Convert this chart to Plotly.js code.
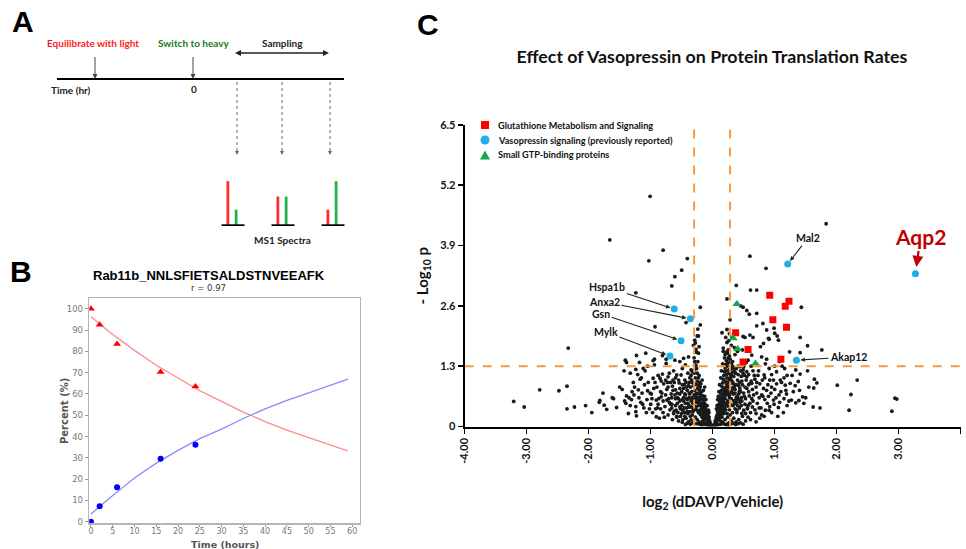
<!DOCTYPE html>
<html><head><meta charset="utf-8">
<script src="https://cdn.plot.ly/plotly-3.0.1.min.js"></script>
<style>html,body{margin:0;padding:0;background:#fff}#chart{width:966px;height:549px}</style>
</head><body><div id="chart"></div>
<script>
// ---------- Panel B data (Rab11b peptide turnover) ----------
const sampleTime = [0, 2, 6, 16, 24];
const lightPercent = [100, 92.5, 83.5, 70.3, 63.5];
const heavyPercent = [0, 7.3, 16.2, 29.6, 36.1];
const fitTime = [0, 5, 10, 15, 20, 25, 30, 35, 40, 45, 50, 55, 59];
const lightFit = [96.3, 88.0, 80.5, 73.5, 67.5, 61.5, 56.5, 51.5, 47.0, 43.0, 39.5, 36.0, 33.3];
const heavyFit = [3.6, 12.3, 20.5, 27.5, 33.5, 39.0, 43.5, 48.5, 53.0, 57.0, 60.5, 64.0, 67.0];
const bTimeTicks = [0, 5, 10, 15, 20, 25, 30, 35, 40, 45, 50, 55, 60];
const bPercentTicks = [0, 10, 20, 30, 40, 50, 60, 70, 80, 90, 100];

// ---------- Panel A schematic spectra ----------
const spectraSample = [1, 2, 3];
const lightPeak = [1.0, 0.65, 0.35];
const heavyPeak = [0.35, 0.65, 1.0];

// ---------- Panel C data (volcano) ----------
const glutLog2 = [0.92, 1.23, 1.17, 0.97, 1.19, 0.37, 0.57, 0.49, 1.10];
const glutNegLogP = [2.83, 2.70, 2.59, 2.30, 2.14, 2.02, 1.66, 1.39, 1.45];
const vasoGenes = ['Aqp2', 'Mal2', 'Akap12', 'Hspa1b', 'Anxa2', 'Gsn', 'Mylk'];
const vasoLog2 = [3.27, 1.21, 1.35, -0.62, -0.36, -0.51, -0.69];
const vasoNegLogP = [3.29, 3.50, 1.43, 2.53, 2.32, 1.85, 1.52];
const gtpLog2 = [0.39, 0.33, 0.40, 0.69];
const gtpNegLogP = [2.64, 1.90, 1.67, 1.36];
const foldCutoffs = [-0.30, 0.28];
const pCutoff = 1.3;
const xTickVals = [-4, -3, -2, -1, 0, 1, 2, 3, 4];
const xTickText = ['-4.00', '-3.00', '-2.00', '-1.00', '0.00', '1.00', '2.00', '3.00', '4.00'];
const yTickVals = [0, 1.3, 2.6, 3.9, 5.2, 6.5];
const yTickText = ['0', '1.3', '2.6', '3.9', '5.2', '6.5'];

const otherLog2 = [
 -1.01,-1.66,-0.80,-1.03,-0.41,-0.50,-0.61,-0.66,1.83,0.60,
 0.86,0.38,0.61,0.71,0.23,-1.24,-0.20,0.49,1.43,0.71,
 0.55,-0.43,-0.20,-0.93,0.28,0.99,0.15,0.23,0.81,0.71,
 0.52,0.65,1.04,1.41,-0.23,1.53,1.76,0.91,0.82,0.77,
 0.48,0.23,0.17,1.41,1.24,-1.08,-0.94,-1.18,-0.23,-0.29,
 -2.33,0.45,0.59,0.87,0.21,0.25,0.49,0.60,0.90,1.00,
 1.06,0.63,0.57,0.79,0.87,-2.79,-2.48,-2.35,-3.21,-3.04,
 -2.35,-2.23,-1.41,-1.39,-1.23,-0.96,-0.81,-0.75,-1.43,-1.24,
 -1.12,-1.09,-0.94,-0.75,-0.61,-0.53,-0.47,-0.39,-0.96,-0.85,
 -0.81,-0.72,-0.63,-0.58,-0.49,-0.44,-0.35,-1.20,-1.14,-1.05,
 -1.39,-1.35,-1.82,-1.75,-1.71,-1.55,-1.24,-1.24,-1.23,-0.91,
 -0.91,-0.83,-0.74,-0.77,-0.67,-0.69,-0.65,-0.60,-0.54,-0.51,
 -1.10,-0.98,-0.90,-1.02,-0.97,-0.86,-0.80,-0.72,-0.65,-0.60,
 -0.56,-0.55,-0.50,-0.48,-0.62,-0.70,-0.55,-0.45,-0.40,-0.38,
 1.34,1.41,1.53,1.38,1.64,1.68,1.63,2.01,2.33,2.23,
 1.45,1.39,1.34,1.62,1.73,2.20,2.94,2.97,2.89,0.91,
 1.03,0.83,0.98,1.09,1.17,1.25,1.27,0.98,1.06,0.92,
 0.88,0.79,0.76,0.68,0.60,0.71,0.82,0.63,0.55,0.49,
 0.44,1.12,1.20,1.10,1.15,1.00,0.90,0.85,0.95,1.05,
 0.70,0.65,0.75,0.58,0.52,0.68,0.74,0.62,0.56,0.53,
 0.70,0.80,0.95,1.30,1.47,1.55,1.20,0.85,0.65,-1.77,
 -1.83,-1.30,-1.42,-1.40,-2.05,-1.95,-1.60,-1.50,-1.15,-1.05,
 -0.03,-0.05,-0.06,-0.08,-0.10,-0.12,-0.13,-0.15,-0.16,-0.18,
 -0.20,-0.21,-0.23,-0.25,-0.26,-0.04,-0.07,-0.09,-0.11,-0.14,
 -0.17,-0.19,-0.22,-0.24,-0.27,-0.29,-0.31,-0.33,-0.12,-0.15,
 -0.18,-0.20,-0.23,-0.26,-0.28,-0.30,-0.34,-0.36,-0.38,-0.40,
 -0.42,-0.37,-0.33,-0.28,-0.25,-0.22,-0.19,-0.16,-0.14,-0.10,
 -0.21,-0.24,-0.19,-0.17,-0.22,-0.28,-0.30,-0.27,-0.24,-0.30,
 -0.26,-0.22,-0.28,-0.25,-0.24,-0.32,-0.35,-0.45,-0.47,-0.44,
 -0.41,-0.46,-0.50,-0.52,-0.48,-0.43,-0.39,-0.35,-0.31,-0.13,
 -0.11,-0.09,-0.07,-0.06,-0.15,-0.13,-0.29,-0.27,-0.31,-0.05,
 -0.08,-0.12,-0.17,-0.21,-0.26,-0.32,-0.36,-0.41,-0.44,-0.49,
 -0.55,-0.58,-0.52,-0.57,-0.62,-0.66,-0.60,-0.53,-0.47,-0.42,
 -0.38,-0.34,-0.30,-0.25,-0.20,-0.17,-0.14,-0.11,-0.08,-0.06,
 -0.19,-0.23,-0.27,-0.32,-0.36,-0.40,-0.35,-0.29,-0.33,-0.37,
 -0.26,-0.21,-0.18,-0.15,-0.12,-0.10,-0.34,-0.39,-0.43,-0.46,
 0.03,0.05,0.06,0.07,0.08,0.09,0.10,0.11,0.12,0.13,
 0.14,0.15,0.16,0.17,0.18,0.19,0.20,0.21,0.22,0.04,
 0.06,0.08,0.10,0.12,0.14,0.16,0.18,0.20,0.22,0.24,
 0.26,0.28,0.30,0.12,0.15,0.18,0.21,0.24,0.27,0.30,
 0.33,0.36,0.38,0.40,0.34,0.31,0.26,0.23,0.25,0.20,
 0.17,0.24,0.27,0.29,0.14,0.13,0.11,0.10,0.09,0.08,
 0.07,0.06,0.16,0.20,0.24,0.28,0.32,0.36,0.40,0.44,
 0.46,0.42,0.44,0.48,0.50,0.48,0.42,0.38,0.34,0.30,
 0.26,0.22,0.05,0.09,0.13,0.17,0.21,0.25,0.29,0.33,
 0.37,0.41,0.45,0.49,0.53,0.57,0.15,0.19,0.23,0.27,
 0.31,0.35,0.39,0.43,0.47,0.51,0.55,0.59,0.13,0.17,
 0.21,0.25,0.29,0.33,0.37,0.41,0.45,0.28,0.32,0.36,
 0.40,0.30,0.26,0.22,0.19,0.16,0.27,0.31,0.35,0.19,
 0.23,0.27,0.31,0.35,0.39,0.43,0.47,0.52,0.56,0.61,
 0.64,0.58,0.54,0.50,0.46,0.42,0.38,0.34,0.30,0.26,
 0.22,0.18,0.14,0.11,0.08,0.06,0.10,0.14,0.18,0.22,
 0.26,0.30,0.34,0.38,0.42,0.46,0.50,0.54,0.58,0.62,
 -0.88,-0.84,-0.79,-0.74,-0.70,-0.66,-0.63,-0.59,-0.57,-0.53,
 -0.50,-0.47,-0.44,-0.41,-0.60,-0.64,-0.68,-0.72,-0.76,-0.80,
 -0.84,-0.88,-0.93,-1.00,-1.06,-1.16,-1.28,-1.33,-1.46,-1.62,
 0.66,0.72,0.78,0.84,0.89,0.94,1.02,1.08,1.14,1.18,
 0.70,0.76,0.84,0.92,1.00,1.08,1.16,0.64,0.73,0.81,
 -1.36,-1.31,-1.26,-1.19,-1.13,-1.07,-1.01,-0.95,-0.89,-0.83,
 -0.78,-0.73,-0.68,-0.64,-0.58,-0.53,-0.49,-0.45,-0.42,-0.39,
 -0.37,-0.41,-0.45,-0.49,-0.53,-0.57,-0.61,-0.66,-0.71,-0.76,
 -0.82,-0.87,-0.92,-0.99,-1.04,-1.11,-1.17,-1.21,-1.27,-1.33,
 -0.02,-0.04,-0.06,-0.09,-0.11,-0.13,-0.16,-0.18,-0.21,-0.24,
 -0.27,-0.30,-0.33,-0.29,-0.25,-0.22,-0.19,-0.15,-0.12,-0.09,
 -0.07,-0.14,-0.17,-0.20,-0.23,-0.26,-0.29,-0.32,-0.35,-0.38,
 0.02,0.04,0.06,0.08,0.10,0.12,0.14,0.16,0.18,0.20,
 0.22,0.24,0.26,0.28,0.30,0.32,0.34,0.36,0.38,0.40,
 0.09,0.11,0.13,0.15,0.17,0.19,0.21,0.23,0.25,0.27,
 0.12,0.15,0.18,0.21,0.24,0.27,0.30,0.33,0.36,0.39,
 0.14,0.17,0.20,0.23,0.26,0.29,0.32,0.35,0.38,0.41,
 0.43,0.45,0.47,0.49,0.51,0.53,0.55,0.57,0.59,0.61,
 0.63,0.67,0.71,0.75,0.79,0.83,0.87,0.91,0.95,0.99,
 1.03,1.07,1.11,1.15,1.19,1.23,1.28,1.33,1.40,1.50
];
const otherNegLogP = [
 4.96,4.02,3.80,3.57,3.62,3.37,3.23,3.03,4.37,3.67,
 3.41,3.04,2.94,2.94,2.75,2.88,2.57,2.57,2.57,2.44,
 2.50,2.24,2.19,2.15,2.30,2.12,2.02,2.09,2.22,2.17,
 1.92,1.92,1.95,1.92,1.95,1.74,1.65,1.88,1.79,1.72,
 1.65,1.81,1.69,1.59,1.61,1.58,1.45,1.38,1.58,1.40,
 1.69,2.60,2.42,2.08,1.92,1.65,1.94,1.97,1.90,2.01,
 1.86,1.54,1.43,1.50,1.45,0.79,0.77,0.87,0.54,0.42,
 0.38,0.42,1.43,1.38,1.53,1.42,1.53,1.45,1.20,1.23,
 1.25,1.20,1.33,1.36,1.43,1.40,1.47,1.50,1.04,1.04,
 1.13,1.07,1.20,1.11,1.25,1.33,1.22,0.79,0.72,0.77,
 0.66,0.62,0.56,0.46,0.37,0.41,0.43,0.32,0.23,0.57,
 0.21,0.64,0.57,0.43,0.70,0.36,0.87,0.79,0.94,1.11,
 0.90,0.60,0.85,0.38,0.30,0.18,0.30,0.25,0.15,0.45,
 0.30,0.60,0.75,0.35,0.95,1.15,1.00,1.00,1.15,0.95,
 1.22,1.13,1.20,0.97,1.02,0.94,0.83,0.89,1.00,0.69,
 0.64,0.56,0.51,0.42,0.40,0.35,0.61,0.59,0.33,1.25,
 1.18,1.11,1.00,1.00,0.89,0.93,0.57,0.57,0.41,0.43,
 0.50,0.25,0.18,0.36,0.50,0.72,0.82,0.93,1.07,1.22,
 1.29,1.30,1.10,0.75,0.60,0.80,0.65,0.35,0.30,0.22,
 0.10,0.55,0.62,0.75,0.85,1.02,1.20,1.30,0.40,0.60,
 0.85,1.00,1.12,0.75,0.50,0.85,0.45,1.35,1.20,0.72,
 0.52,0.75,0.55,0.50,0.45,0.30,0.60,0.85,1.05,1.30,
 0.05,0.12,0.20,0.28,0.35,0.42,0.50,0.58,0.66,0.75,
 0.85,0.95,1.05,1.15,1.25,0.08,0.15,0.10,0.25,0.30,
 0.40,0.48,0.55,0.62,0.70,0.78,0.88,0.95,0.18,0.22,
 0.30,0.36,0.45,0.52,0.60,0.68,0.75,0.85,0.62,0.50,
 0.40,0.32,0.25,0.20,0.15,0.10,0.06,0.12,0.08,0.05,
 0.70,0.82,0.92,1.00,1.10,1.05,1.15,1.32,1.40,1.48,
 1.60,1.72,1.80,1.95,2.10,0.50,0.42,0.30,0.55,0.68,
 0.78,0.90,0.45,0.22,0.15,0.18,0.10,0.14,0.35,0.65,
 0.58,0.45,0.35,0.30,0.78,0.85,1.86,1.66,1.75,0.02,
 0.03,0.04,0.03,0.05,0.06,0.08,0.05,0.07,0.04,0.09,
 0.12,0.22,0.38,0.50,0.33,0.48,0.60,0.70,0.82,0.60,
 0.72,1.00,1.22,0.98,0.62,0.50,0.40,0.30,0.20,0.14,
 0.25,0.33,0.42,0.40,0.22,0.28,1.10,1.32,1.18,1.05,
 0.90,0.78,0.58,0.46,0.36,0.22,0.58,0.88,0.95,0.40,
 0.05,0.10,0.18,0.25,0.33,0.40,0.48,0.55,0.62,0.70,
 0.78,0.86,0.94,1.02,1.10,1.18,1.26,1.34,1.42,0.12,
 0.08,0.15,0.22,0.30,0.38,0.45,0.52,0.60,0.68,0.76,
 0.84,0.92,1.00,0.12,0.20,0.28,0.36,0.44,0.52,0.60,
 0.70,0.80,0.90,1.00,1.08,1.16,1.22,1.30,1.48,1.55,
 1.62,1.58,1.36,1.28,1.20,1.05,0.90,0.75,0.65,0.58,
 0.45,0.38,0.10,0.15,0.20,0.25,0.30,0.38,0.45,0.52,
 0.62,0.70,0.82,0.90,0.35,0.22,0.15,0.10,0.18,0.12,
 0.08,0.05,0.02,0.04,0.05,0.06,0.04,0.03,0.05,0.07,
 0.04,0.06,0.08,0.05,0.12,0.20,0.30,0.40,0.50,0.62,
 0.74,0.86,0.65,0.76,0.98,1.10,0.82,0.66,0.48,0.58,
 0.72,0.95,1.08,1.25,1.15,1.30,1.20,1.45,1.40,1.55,
 1.62,1.75,1.85,1.60,1.48,1.35,2.00,1.92,1.70,0.35,
 0.28,0.36,0.46,0.55,0.30,0.40,0.28,0.48,0.38,0.30,
 0.42,0.90,1.00,0.72,0.45,0.58,0.52,0.92,0.82,0.70,
 0.92,0.82,0.55,0.35,0.25,0.20,0.15,0.25,0.65,1.12,
 1.02,1.35,0.55,0.62,0.88,1.08,1.28,1.38,1.12,0.98,
 0.48,0.75,0.92,0.80,0.52,0.62,0.28,0.35,0.72,0.55,
 0.28,0.62,0.50,0.32,1.05,1.00,0.95,0.85,0.68,0.55,
 0.38,1.10,0.95,0.48,0.58,0.52,0.95,0.45,0.80,0.62,
 0.68,0.50,0.40,0.58,0.90,0.72,0.62,0.52,0.30,0.78,
 0.28,0.92,1.05,1.00,1.30,1.40,1.25,0.80,1.10,0.65,
 0.28,0.58,0.85,0.62,0.48,0.30,0.72,0.82,0.40,0.98,
 0.20,0.95,0.48,0.78,0.20,0.42,0.90,0.22,0.85,0.42,
 0.70,0.58,0.70,0.58,0.82,0.62,0.68,0.40,0.60,1.00,
 0.72,0.60,0.38,0.70,0.95,0.40,1.02,1.12,0.68,1.15,
 0.02,0.05,0.09,0.16,0.20,0.26,0.34,0.42,0.50,0.58,
 0.65,0.55,0.62,0.92,0.72,0.88,0.68,0.52,0.42,0.28,
 0.22,0.14,0.20,0.26,0.30,0.36,0.44,0.32,0.55,0.45,
 0.02,0.06,0.12,0.19,0.27,0.35,0.44,0.52,0.60,0.69,
 0.78,0.87,0.95,1.04,1.12,0.96,0.85,0.72,0.58,0.62,
 0.32,0.40,0.46,0.55,0.66,0.75,0.84,1.20,1.38,1.52,
 0.20,0.32,0.42,0.48,0.55,0.68,0.78,0.45,0.50,0.35,
 0.62,0.72,0.98,1.05,1.14,1.22,1.30,1.18,1.25,1.12,
 0.95,0.75,0.55,1.15,0.65,0.28,1.18,0.45,0.92,0.15,
 0.60,1.10,0.95,0.40,0.68,0.22,0.78,0.35,0.85,0.48,
 0.92,0.68,0.95,1.05,0.70,0.55,1.10,0.88,0.78,0.62
];

// ---------- helpers (pixel -> paper) ----------
const W = 966, H = 549;
const px = v => v / W;
const py = v => 1 - v / H;
const CAL = 'Lato, "Open Sans", sans-serif';
const TAH = '"DejaVu Sans", "Liberation Sans", sans-serif';
const ARI = '"Liberation Sans", Arial, sans-serif';

const traces = [
  // Panel B
  {x: fitTime, y: lightFit, xaxis: 'x2', yaxis: 'y2', mode: 'lines', line: {color: '#ff8a8a', width: 1.3}, showlegend: false, hoverinfo: 'skip'},
  {x: fitTime, y: heavyFit, xaxis: 'x2', yaxis: 'y2', mode: 'lines', line: {color: '#8a8aff', width: 1.3}, showlegend: false, hoverinfo: 'skip'},
  {x: sampleTime, y: lightPercent, xaxis: 'x2', yaxis: 'y2', mode: 'markers', name: 'Light', marker: {symbol: 'triangle-up', size: 7, color: '#ff0000'}, showlegend: false},
  {x: sampleTime, y: heavyPercent, xaxis: 'x2', yaxis: 'y2', mode: 'markers', name: 'Heavy', marker: {symbol: 'circle', size: 6, color: '#0000ff'}, showlegend: false},
  // Panel A spectra
  {type: 'bar', x: spectraSample, y: lightPeak, xaxis: 'x3', yaxis: 'y3', offset: -0.11, width: 0.055, marker: {color: '#ff2a2a'}, showlegend: false, hoverinfo: 'skip'},
  {type: 'bar', x: spectraSample, y: heavyPeak, xaxis: 'x3', yaxis: 'y3', offset: 0.055, width: 0.055, marker: {color: '#22b04a'}, showlegend: false, hoverinfo: 'skip'},
  // Panel C
  {x: otherLog2, y: otherNegLogP, mode: 'markers', name: 'Other proteins', marker: {symbol: 'circle', size: 3.8, color: '#1a1a1a'}, showlegend: false},
  {x: glutLog2, y: glutNegLogP, mode: 'markers', name: 'Glutathione Metabolism and Signaling', marker: {symbol: 'square', size: 7, color: '#ff0000'}, showlegend: false},
  {x: gtpLog2, y: gtpNegLogP, mode: 'markers', name: 'Small GTP-binding proteins', marker: {symbol: 'triangle-up', size: 8, color: '#12a84a'}, showlegend: false},
  {x: vasoLog2, y: vasoNegLogP, text: vasoGenes, mode: 'markers', name: 'Vasopressin signaling (previously reported)', marker: {symbol: 'circle', size: 7, color: '#1eaee8'}, showlegend: false}
];

const shapes = [];
const pline = (x0, y0, x1, y1, color, width, dash) => shapes.push({type: 'line', xref: 'paper', yref: 'paper', x0: px(x0), y0: py(y0), x1: px(x1), y1: py(y1), line: {color, width, dash: dash || 'solid'}});
// arrow head: tip (x,y), direction 'down' | 'left' | 'right'
const head = (x, y, dir, len, half, color) => {
  let pts;
  if (dir === 'down') pts = [[x, y], [x - half, y - len], [x + half, y - len]];
  else if (dir === 'left') pts = [[x, y], [x + len, y - half], [x + len, y + half]];
  else pts = [[x, y], [x - len, y - half], [x - len, y + half]];
  const path = 'M ' + pts.map(p => px(p[0]) + ' ' + py(p[1])).join(' L ') + ' Z';
  shapes.push({type: 'path', xref: 'paper', yref: 'paper', path, fillcolor: color, line: {width: 0}});
};
// Panel C thresholds
foldCutoffs.forEach(c => shapes.push({type: 'line', xref: 'x', yref: 'y', x0: c, x1: c, y0: 0, y1: 6.5, line: {color: '#f39a46', width: 2, dash: 'dash'}}));
shapes.push({type: 'line', xref: 'x', yref: 'y', x0: -4, x1: 4, y0: pCutoff, y1: pCutoff, line: {color: '#f39a46', width: 2, dash: 'dash'}});
// Panel C manual legend symbols
shapes.push({type: 'rect', xref: 'paper', yref: 'paper', x0: px(481), x1: px(489), y0: py(129), y1: py(121), fillcolor: '#ff0000', line: {width: 0}});
shapes.push({type: 'circle', xref: 'paper', yref: 'paper', x0: px(480.5), x1: px(489.5), y0: py(144.5), y1: py(135.5), fillcolor: '#1eaee8', line: {width: 0}});
shapes.push({type: 'path', xref: 'paper', yref: 'paper', path: `M ${px(480)} ${py(159.5)} L ${px(490)} ${py(159.5)} L ${px(485)} ${py(150.5)} Z`, fillcolor: '#12a84a', line: {width: 0}});
// Panel A timeline, arrows, dotted sampling lines
pline(57, 79, 344, 79, '#000', 2);
[95, 193].forEach(xx => { pline(xx, 57, xx, 75, '#444', 1); head(xx, 79, 'down', 5, 2.5, '#444'); });
pline(240, 53, 324, 53, '#222', 1.3); head(235, 53, 'left', 6, 3, '#222'); head(329, 53, 'right', 6, 3, '#222');
[237, 282, 330].forEach(xx => { pline(xx, 82, xx, 151, '#666', 1, 'dot'); head(xx, 155, 'down', 4, 2, '#666'); });
// spectra baselines
spectraSample.forEach(s => shapes.push({type: 'line', xref: 'x3', yref: 'y3', x0: s - 0.21, x1: s + 0.25, y0: -0.01, y1: -0.01, line: {color: '#000', width: 2.5}}));

const ann = [];
const txt = (x, y, text, size, color, family, anchor, angle) => ann.push({xref: 'paper', yref: 'paper', x: px(x), y: py(y), text, showarrow: false, textangle: angle || 0, xanchor: anchor || 'center', yanchor: 'middle', font: {size, color: color || '#000', family: family || CAL}});
// Panel letters
txt(23, 22, '<b>A</b>', 30, '#000', ARI);
txt(21, 271, '<b>B</b>', 30, '#000', ARI);
txt(428, 25, '<b>C</b>', 30, '#000', ARI);
// Panel A text
txt(93, 43, '<b>Equilibrate with light</b>', 10, '#ff1a1a');
txt(194, 43, '<b>Switch to heavy</b>', 10, '#1a7a1a');
txt(282, 43, '<b>Sampling</b>', 10, '#222');
txt(49, 90, '<b>Time (hr)</b>', 10, '#222', CAL, 'left');
txt(194, 89, '<b>0</b>', 10, '#222');
txt(282, 240, '<b>MS1 Spectra</b>', 10, '#222');
// Panel B titles
txt(209, 275, '<b>Rab11b_NNLSFIETSALDSTNVEEAFK</b>', 13, '#000', ARI);
txt(208, 288, 'r = 0.97', 8.5, '#333', TAH);
txt(225, 544, '<b>Time (hours)</b>', 9.5, '#555', TAH);
txt(64, 411, '<b>Percent (%)</b>', 10, '#555', TAH, 'center', -90);
// Panel C legend text
txt(496, 125, '<b>Glutathione Metabolism and Signaling</b>', 9.2, '#111', CAL, 'left');
txt(496, 140, '<b>Vasopressin signaling (previously reported)</b>', 9.2, '#111', CAL, 'left');
txt(496, 155, '<b>Small GTP-binding proteins</b>', 9.2, '#111', CAL, 'left');
// Panel C gene labels
const labelOffsets = {Aqp2: [5, -37], Mal2: [20, -26], Akap12: [52, -3], Hspa1b: [-67, -22], Anxa2: [-86, -17], Gsn: [-80, -27], Mylk: [-64, -24]};
vasoGenes.forEach((g, i) => {
  const big = g === 'Aqp2';
  ann.push({xref: 'x', yref: 'y', x: vasoLog2[i], y: vasoNegLogP[i], ax: labelOffsets[g][0], ay: labelOffsets[g][1],
    text: '<b>' + g + '</b>', showarrow: true, arrowhead: 2, arrowsize: big ? 1 : 0.8, arrowwidth: big ? 2.2 : 1.1, standoff: big ? 7 : 4,
    arrowcolor: big ? '#c00000' : '#222', font: {size: big ? 21 : 10.5, color: big ? '#c00000' : '#111', family: CAL}});
});

const axisB = {showgrid: false, zeroline: false, showline: true, mirror: true, linecolor: '#b5b5b5', linewidth: 1.5, ticks: 'outside', ticklen: 3, tickcolor: '#999', tickfont: {size: 8.5, color: '#777', family: TAH}};

const layout = {
  width: W, height: H, margin: {l: 0, r: 0, t: 0, b: 0}, paper_bgcolor: '#fff', plot_bgcolor: 'rgba(0,0,0,0)',
  showlegend: false, barmode: 'overlay', font: {family: CAL},
  title: {text: '<b>Effect of Vasopressin on Protein Translation Rates</b>', x: px(712), xanchor: 'center', y: py(57), yanchor: 'middle', xref: 'paper', yref: 'paper', font: {size: 17.8, color: '#111', family: CAL}},
  xaxis: {domain: [px(464.7), px(960.7)], range: [-4, 4], tickvals: xTickVals, ticktext: xTickText, tickangle: -90, showgrid: false, zeroline: false, showline: true, linecolor: '#000', linewidth: 2, ticks: 'outside', ticklen: 5, tickwidth: 1.5, tickcolor: '#000', tickfont: {size: 11, color: '#111', family: CAL, weight: 'bold'},
    title: {text: '<b>log<sub>2</sub> (dDAVP/Vehicle)</b>', standoff: 34, font: {size: 15, color: '#111', family: CAL}}},
  yaxis: {domain: [py(426.5), py(124.9)], range: [0, 6.5], tickvals: yTickVals, ticktext: yTickText, showgrid: false, zeroline: false, showline: true, linecolor: '#000', linewidth: 2, ticks: 'outside', ticklen: 5, tickwidth: 1.5, tickcolor: '#000', tickfont: {size: 11, color: '#111', family: CAL, weight: 'bold'},
    title: {text: '<b>- Log<sub>10</sub> p</b>', standoff: 8, font: {size: 15, color: '#111', family: CAL}}},
  xaxis2: Object.assign({}, axisB, {anchor: 'y2', domain: [px(89.2), px(359.6)], range: [-0.4, 61.7], tickvals: bTimeTicks, ticklen: 2, ticklabelstandoff: -3, tickfont: {size: 8, color: '#777', family: TAH}}),
  yaxis2: Object.assign({}, axisB, {anchor: 'x2', domain: [py(523.4), py(298)], range: [-0.8, 105.1], tickvals: bPercentTicks}),
  xaxis3: {anchor: 'y3', domain: [px(215), px(350)], range: [0.66, 3.36], visible: false, fixedrange: true},
  yaxis3: {anchor: 'x3', domain: [py(226), py(175)], range: [-0.02, 1.14], visible: false, fixedrange: true},
  shapes, annotations: ann
};

Plotly.newPlot('chart', traces, layout, {displayModeBar: false, staticPlot: true});
</script></body></html>
